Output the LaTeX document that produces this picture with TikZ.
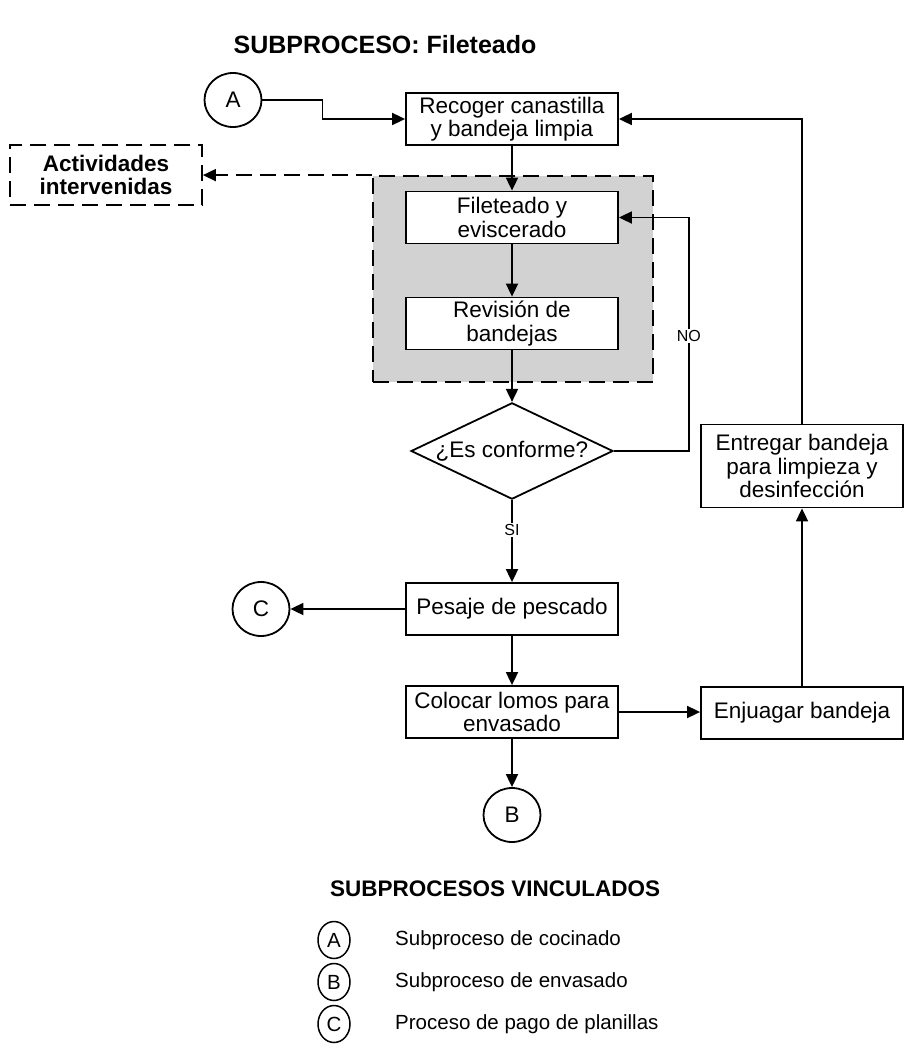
\documentclass[tikz,border=0pt]{standalone}
\usepackage{fontspec}
\setmainfont{Liberation Sans}
\usetikzlibrary{arrows.meta,shapes.geometric}

\begin{document}
\begin{tikzpicture}[x=1pt,y=-1pt,
  txt/.style={font=\fontsize{22.5}{23.5}\selectfont},
  boldtxt/.style={font=\bfseries\fontsize{22.5}{23.5}\selectfont},
  legtxt/.style={font=\fontsize{20.5}{22}\selectfont},
  proc/.style={txt, draw, line width=1.8pt, fill=white, minimum width=212pt,
    minimum height=52pt, align=center, inner sep=2pt},
  sideproc/.style={proc, minimum width=202pt},
  conn/.style={txt, draw, ellipse, line width=1.8pt, minimum width=57pt,
    minimum height=54pt, inner sep=0pt},
  legconn/.style={legtxt, draw, ellipse, line width=1.5pt, minimum width=32pt,
    minimum height=37pt, inner sep=0pt},
  decision/.style={txt, draw, diamond, aspect=2, line width=1.8pt, fill=white,
    minimum width=202pt, minimum height=96pt, inner sep=0pt},
  lbl/.style={font=\fontsize{16}{17}\selectfont, fill=white, inner sep=1pt},
  dashline/.style={line width=1.8pt, dash pattern=on 16pt off 8pt},
  arr/.style={line width=1.8pt, -{Triangle[length=13pt,width=12pt]}},
]
\useasboundingbox (0,0) rectangle (903,1051);

% title
\node[font=\bfseries\fontsize{25}{27}\selectfont] (title) at (385,45) {SUBPROCESO: Fileteado};

% shaded group of the intervened activities
\node[draw, dashline, fill=gray!35, minimum width=280pt, minimum height=206pt,
  inner sep=0pt] (grp) at (513,279) {};

% main column
\node[conn] (A) at (233,100) {A};
\node[proc] (rec) at (512,119) {Recoger canastilla\\y bandeja limpia};
\node[proc] (fil) at (512,217.5) {Fileteado y\\eviscerado};
\node[proc] (rev) at (512,323.5) {Revisión de\\bandejas};
\node[decision] (dec) at (512,451) {¿Es conforme?};
\node[proc] (pes) at (512,609) {Pesaje de pescado};
\node[proc] (col) at (512,712) {Colocar lomos para\\envasado};
\node[conn] (B) at (512,815) {B};
\node[conn] (C) at (261,609) {C};

% right column
\node[sideproc] (enj) at (802,713) {Enjuagar bandeja};
\node[sideproc, minimum height=83pt] (ent) at (802,466) {Entregar bandeja\\para limpieza y\\desinfección};

% intervened activities
\node[boldtxt, draw, dashline, minimum width=192pt, minimum height=60pt,
  align=center, inner sep=2pt] (act) at (106,175) {Actividades\\intervenidas};

% connectors
\draw[arr] (A.east) -- ++(60,0) |- (rec.west);
\draw[arr] (rec.south) -- (fil.north);
\draw[arr] (fil.south) -- (rev.north);
\draw[arr] (rev.south) -- (dec.north);
\draw[arr] (dec.east) -- ++(75,0) coordinate (nocorner) |- (fil.east);
\node[lbl] (nolbl) at (nocorner |- 0,336) {NO};
\draw[arr] (dec.south) -- (pes.north);
\node[lbl] (silbl) at (512,530) {SI};
\draw[arr] (pes.west) -- (C.east);
\draw[arr] (pes.south) -- (col.north);
\draw[arr] (col.south) -- (B.north);
\draw[arr] (col.east) -- (col.east -| enj.west);
\draw[arr] (enj.north) -- (ent.south);
\draw[arr] (ent.north) |- (rec.east);
\draw[dashline, -{Triangle[length=13pt,width=12pt]}] (grp.north west) -- (grp.north west -| act.east);

% legend of linked subprocesses
\node[boldtxt, anchor=west, inner sep=0pt] (legtitle) at (330,889) {SUBPROCESOS VINCULADOS};
\node[legconn] (lA) at (334,940) {A};
\node[legconn] (lB) at (334,982) {B};
\node[legconn] (lC) at (334,1024) {C};
\node[legtxt, anchor=west, inner sep=0pt] (tA) at (395,940) {Subproceso de cocinado};
\node[legtxt, anchor=west, inner sep=0pt] (tB) at (395,982) {Subproceso de envasado};
\node[legtxt, anchor=west, inner sep=0pt] (tC) at (395,1024) {Proceso de pago de planillas};
\end{tikzpicture}
\end{document}
